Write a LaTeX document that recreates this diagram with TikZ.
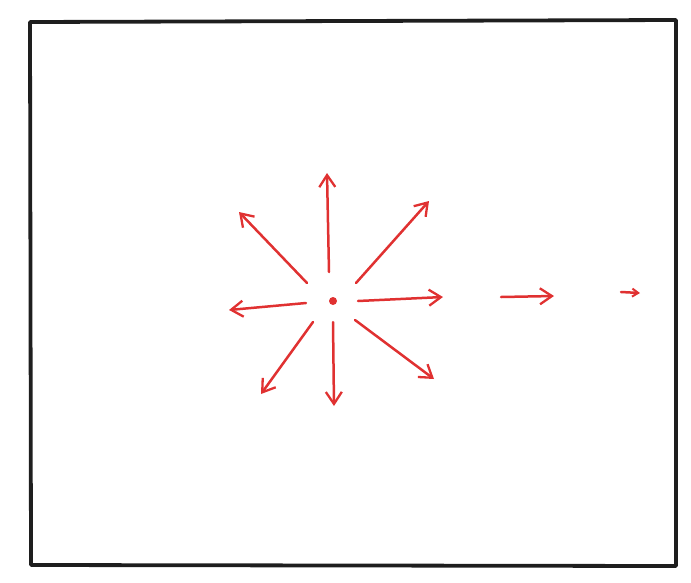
\documentclass[tikz,border=0pt]{standalone}
\usetikzlibrary{arrows.meta}
\definecolor{sketchred}{RGB}{224,49,49}
\definecolor{sketchink}{RGB}{30,30,30}
\tikzset{
  frame/.style={draw=sketchink, line width=3.8pt, line join=round, line cap=round},
  ray/.style={draw=sketchred, line width=2.5pt, line cap=round,
    -{Straight Barb[length=12pt,width=16pt,line width=2.3pt]}},
  smallray/.style={draw=sketchred, line width=2.5pt, line cap=round,
    -{Straight Barb[length=6pt,width=8pt,line width=2pt]}},
}
\begin{document}
\begin{tikzpicture}[x=1pt,y=-1pt]
\useasboundingbox (0,0) rectangle (691,582);
% frame
\coordinate (tl) at (30,22);
\coordinate (tr) at (676,20);
\coordinate (br) at (676,566);
\coordinate (bl) at (31,565);
\draw[frame] (tl) -- (tr) -- (br) -- (bl) -- cycle;
% centre
\coordinate (c) at (333,301);
\fill[sketchred] (c) circle (4pt);
% rays: tails and tips
\coordinate (t1) at (329,272); \coordinate (h1) at (327,173);
\coordinate (t2) at (307,283); \coordinate (h2) at (239,212);
\coordinate (t3) at (356,283); \coordinate (h3) at (429,201);
\coordinate (t4) at (358,301); \coordinate (h4) at (443,297);
\coordinate (t5) at (306,303); \coordinate (h5) at (229,310);
\coordinate (t6) at (313,322); \coordinate (h6) at (261,394);
\coordinate (t7) at (333,322); \coordinate (h7) at (334,406);
\coordinate (t8) at (355,320); \coordinate (h8) at (434,379);
\foreach \i in {1,...,8} \draw[ray] (t\i) -- (h\i);
\coordinate (t9) at (501,297); \coordinate (h9) at (554,296);
\draw[ray] (t9) -- (h9);
\coordinate (t10) at (621,292); \coordinate (h10) at (640,293);
\draw[smallray] (t10) -- (h10);
\end{tikzpicture}
\end{document}
